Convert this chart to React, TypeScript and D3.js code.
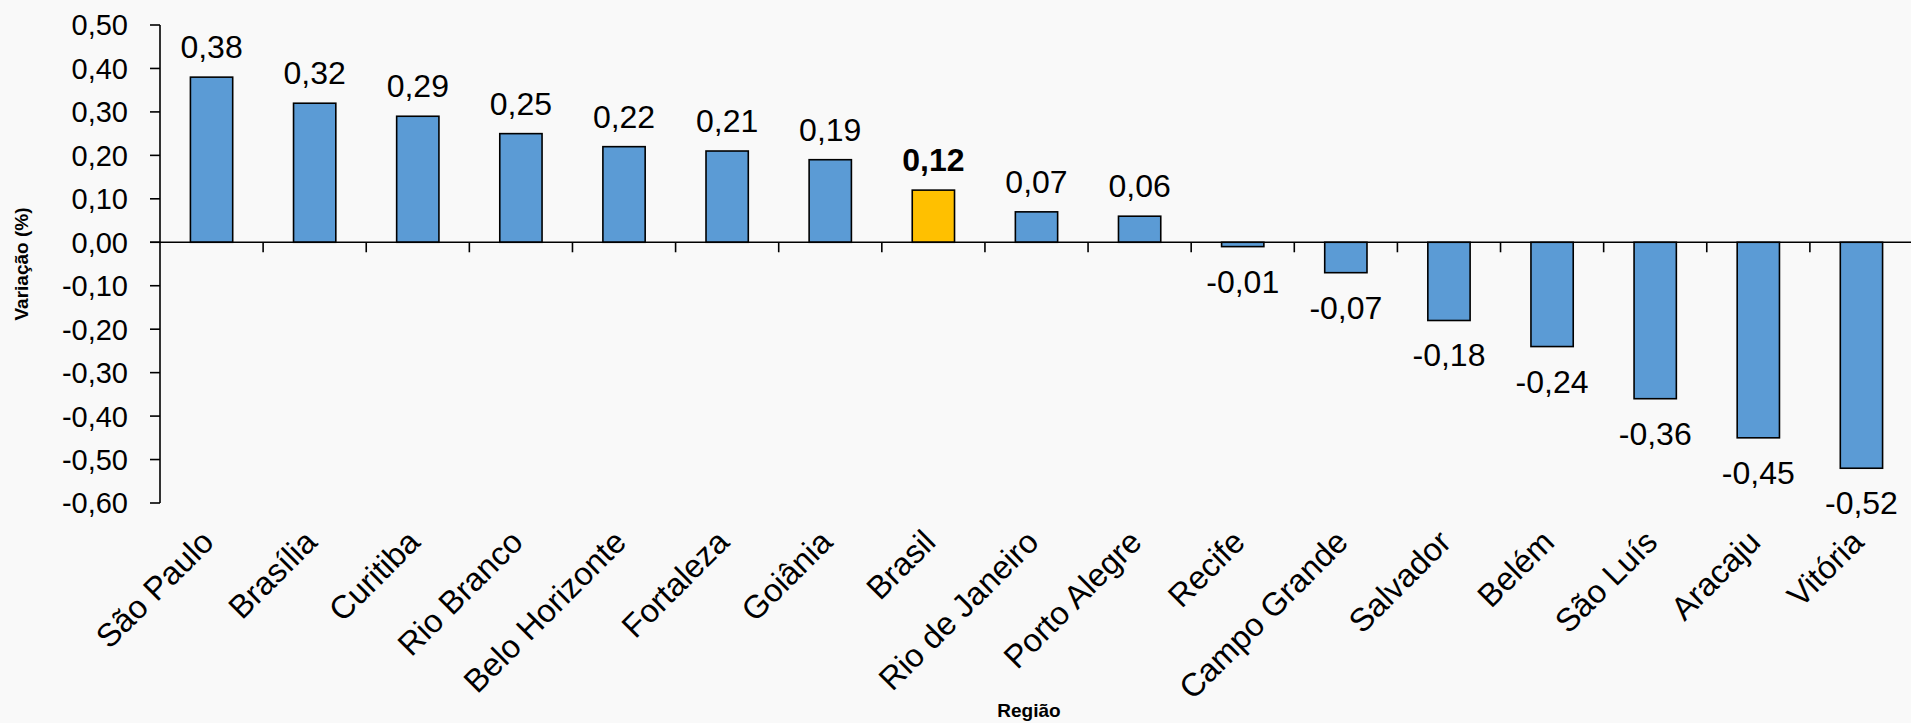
import React, { useEffect } from "react";
import * as d3 from "d3";

const categories = [
  "São Paulo", "Brasília", "Curitiba", "Rio Branco", "Belo Horizonte", "Fortaleza",
  "Goiânia", "Brasil", "Rio de Janeiro", "Porto Alegre", "Recife", "Campo Grande",
  "Salvador", "Belém", "São Luís", "Aracaju", "Vitória",
];
const values = [0.38, 0.32, 0.29, 0.25, 0.22, 0.21, 0.19, 0.12, 0.07, 0.06, -0.01, -0.07, -0.18, -0.24, -0.36, -0.45, -0.52];
const highlight = "Brasil";
const yTicks = [0.5, 0.4, 0.3, 0.2, 0.1, 0, -0.1, -0.2, -0.3, -0.4, -0.5, -0.6];
const yTitle = "Variação (%)";
const xTitle = "Região";

const W = 1911;
const H = 723;
const FONT = "'Liberation Sans', Arial, sans-serif";

const fmt = (v: number) => v.toFixed(2).replace(".", ",");

export default function App() {
  useEffect(() => {
    document.body.style.margin = "0";
    document.body.style.background = "#f9f9f9";
  }, []);

  const y = d3.scaleLinear().domain([-0.6, 0.5]).range([503, 25]);
  const x = d3.scaleBand<string>().domain(categories).range([160, 1913]).padding(0);
  const bw = x.bandwidth();
  const barW = bw * 0.41;
  const y0 = y(0);

  return (
    <svg width={W} height={H} style={{ display: "block" }} fontFamily={FONT}>
      <rect x={0} y={0} width={W} height={H} fill="#f9f9f9" />
      {/* bars */}
      {categories.map((c, i) => {
        const v = values[i];
        const cx = (x(c) as number) + bw / 2;
        const top = y(Math.max(0, v));
        const bot = y(Math.min(0, v));
        return (
          <rect
            key={c}
            x={cx - barW / 2}
            y={top}
            width={barW}
            height={bot - top}
            fill={c === highlight ? "#FFC000" : "#5B9BD5"}
            stroke="#000"
            strokeWidth={1.6}
          />
        );
      })}
      {/* y axis */}
      <line x1={160} x2={160} y1={y(0.5)} y2={y(-0.6)} stroke="#000" strokeWidth={1.6} />
      {yTicks.map((t) => (
        <g key={t}>
          <line x1={150} x2={160} y1={y(t)} y2={y(t)} stroke="#000" strokeWidth={1.6} />
          <text x={128} y={y(t)} dy="0.36em" textAnchor="end" fontSize={29} fill="#000">
            {fmt(t)}
          </text>
        </g>
      ))}
      {/* zero line */}
      <line x1={150} x2={W} y1={y0} y2={y0} stroke="#000" strokeWidth={1.6} />
      {categories.slice(1).map((c) => (
        <line key={c} x1={x(c) as number} x2={x(c) as number} y1={y0} y2={y0 + 10} stroke="#000" strokeWidth={1.6} />
      ))}
      {/* value labels */}
      {categories.map((c, i) => {
        const v = values[i];
        const cx = (x(c) as number) + bw / 2;
        const ly = v >= 0 ? y(v) - 19 : y(v) + 46;
        return (
          <text
            key={c}
            x={cx}
            y={ly}
            textAnchor="middle"
            fontSize={32}
            fontWeight={c === highlight ? "bold" : "normal"}
            fill="#000"
          >
            {fmt(v)}
          </text>
        );
      })}
      {/* category labels */}
      {categories.map((c) => {
        const cx = (x(c) as number) + bw / 2;
        return (
          <text
            key={c}
            transform={`translate(${cx + 4},${544}) rotate(-45)`}
            textAnchor="end"
            fontSize={32.5}
            fill="#000"
          >
            {c}
          </text>
        );
      })}
      {/* titles */}
      <text
        transform={`translate(28,${(y(0.5) + y(-0.6)) / 2}) rotate(-90)`}
        textAnchor="middle"
        fontSize={19}
        fontWeight="bold"
        fill="#000"
      >
        {yTitle}
      </text>
      <text x={1029} y={717} textAnchor="middle" fontSize={19} fontWeight="bold" fill="#000">
        {xTitle}
      </text>
    </svg>
  );
}
